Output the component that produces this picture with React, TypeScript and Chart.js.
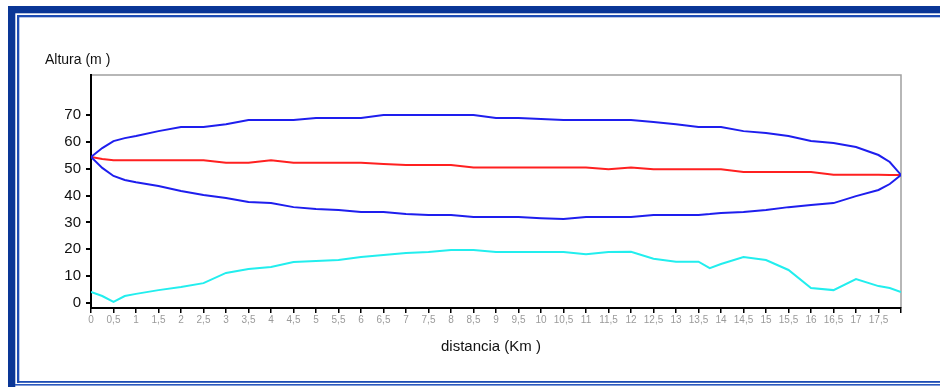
import { useEffect, useRef } from 'react';
import { Chart, registerables } from 'chart.js';

Chart.register(...registerables);

const W = 940;
const H = 387;

// distance along the profile (km)
const distancias = [0, 0.25, 0.5, 0.75, 1, 1.5, 2, 2.5, 3, 3.5, 4, 4.5, 5, 5.5, 6, 6.5, 7, 7.5, 8, 8.5, 9, 9.5, 10, 10.5, 11, 11.5, 12, 12.5, 13, 13.5, 13.75, 14, 14.5, 15, 15.5, 16, 16.5, 17, 17.5, 17.75, 18];

// upper Fresnel boundary (m)
const fresnelSuperior = [54.4, 57.7, 60.3, 61.4, 62.2, 64.0, 65.5, 65.5, 66.6, 68.1, 68.1, 68.1, 68.9, 68.9, 68.9, 70.0, 70.0, 70.0, 70.0, 70.0, 68.9, 68.9, 68.5, 68.1, 68.1, 68.1, 68.1, 67.4, 66.6, 65.5, 65.5, 65.5, 64.0, 63.3, 62.2, 60.3, 59.6, 58.1, 55.1, 52.5, 47.7];

// lower Fresnel boundary (m)
const fresnelInferior = [54.4, 50.3, 47.3, 45.8, 45.0, 43.6, 41.7, 40.2, 39.1, 37.6, 37.2, 35.7, 35.0, 34.6, 33.9, 33.9, 33.1, 32.8, 32.8, 32.0, 32.0, 32.0, 31.6, 31.3, 32.0, 32.0, 32.0, 32.8, 32.8, 32.8, 33.1, 33.5, 33.9, 34.6, 35.7, 36.5, 37.2, 39.8, 42.1, 44.3, 47.7];

// line of sight (m)
const lineaVista = [54.4, 53.6, 53.2, 53.2, 53.2, 53.2, 53.2, 53.2, 52.2, 52.2, 53.2, 52.2, 52.2, 52.2, 52.2, 51.8, 51.4, 51.4, 51.4, 50.5, 50.5, 50.5, 50.5, 50.5, 50.5, 49.8, 50.5, 49.8, 49.8, 49.8, 49.8, 49.8, 48.8, 48.8, 48.8, 48.8, 47.8, 47.8, 47.8, 47.7, 47.7];

// terrain profile (m)
const terreno = [4.1, 2.6, 0.4, 2.6, 3.4, 4.8, 6.0, 7.4, 11.2, 12.7, 13.4, 15.3, 15.6, 16.0, 17.1, 17.9, 18.6, 19.0, 19.7, 19.7, 19.0, 19.0, 19.0, 19.0, 18.2, 19.0, 19.1, 16.5, 15.4, 15.4, 13.0, 14.5, 17.1, 16.0, 12.3, 5.6, 4.8, 8.9, 6.3, 5.6, 4.1];

const xTickValues = [0, 0.5, 1, 1.5, 2, 2.5, 3, 3.5, 4, 4.5, 5, 5.5, 6, 6.5, 7, 7.5, 8, 8.5, 9, 9.5, 10, 10.5, 11, 11.5, 12, 12.5, 13, 13.5, 14, 14.5, 15, 15.5, 16, 16.5, 17, 17.5, 18];
const xTickLabels = ['0', '0,5', '1', '1,5', '2', '2,5', '3', '3,5', '4', '4,5', '5', '5,5', '6', '6,5', '7', '7,5', '8', '8,5', '9', '9,5', '10', '10,5', '11', '11,5', '12', '12,5', '13', '13,5', '14', '14,5', '15', '15,5', '16', '16,5', '17', '17,5', ''];
const yTickValues = [0, 10, 20, 30, 40, 50, 60, 70];

const yTitle = 'Altura (m )';
const xTitle = 'distancia (Km )';

const FONT = "'Liberation Sans Narrow', 'Liberation Sans', Arial, sans-serif";

const toPoints = (serie: number[]) => distancias.map((d, i) => ({ x: d, y: serie[i] }));

const framePlugin = {
  id: 'frame',
  beforeDraw(chart: any) {
    const ctx = chart.ctx;
    const a = chart.chartArea;
    ctx.save();
    ctx.fillStyle = '#ffffff';
    ctx.fillRect(0, 0, W, H);
    // outer dark band
    ctx.fillStyle = '#0a3696';
    ctx.fillRect(8, 6, W - 8, 7.3);
    ctx.fillRect(8, 6, 7.3, H - 6);
    // inner thin lines
    ctx.fillStyle = '#1d4cb4';
    ctx.fillRect(17, 15, W - 17, 2.3);
    ctx.fillRect(17, 15, 2.3, 368);
    ctx.fillRect(17, 381, W - 17, 1.8);
    ctx.fillStyle = '#2b58bd';
    ctx.fillRect(15, 384, W - 15, 1.6);
    // plot area top/right border
    ctx.strokeStyle = '#a0a0a0';
    ctx.lineWidth = 1.5;
    ctx.beginPath();
    ctx.moveTo(a.left, a.top);
    ctx.lineTo(a.right, a.top);
    ctx.lineTo(a.right, a.bottom);
    ctx.stroke();
    ctx.restore();
  },
  afterDraw(chart: any) {
    const ctx = chart.ctx;
    ctx.save();
    ctx.fillStyle = '#111111';
    ctx.textBaseline = 'middle';
    ctx.textAlign = 'left';
    ctx.font = `14px ${FONT}`;
    ctx.fillText(yTitle, 45, 60);
    ctx.textAlign = 'center';
    ctx.font = `15px ${FONT}`;
    ctx.fillText(xTitle, 491, 347);
    ctx.restore();
  },
};

export default function App() {
  const ref = useRef<HTMLCanvasElement | null>(null);

  useEffect(() => {
    if (!ref.current) return;
    const chart = new Chart(ref.current, {
      type: 'line',
      data: {
        datasets: [
          { label: 'Fresnel sup.', data: toPoints(fresnelSuperior), borderColor: '#1e1eee', borderWidth: 2, pointRadius: 0, tension: 0 },
          { label: 'Fresnel inf.', data: toPoints(fresnelInferior), borderColor: '#1e1eee', borderWidth: 2, pointRadius: 0, tension: 0 },
          { label: 'Línea de vista', data: toPoints(lineaVista), borderColor: '#ff2020', borderWidth: 2, pointRadius: 0, tension: 0 },
          { label: 'Terreno', data: toPoints(terreno), borderColor: '#22eeee', borderWidth: 2, pointRadius: 0, tension: 0 },
        ],
      },
      options: {
        animation: false,
        responsive: false,
        devicePixelRatio: 1,
        layout: { padding: { top: 75, right: 39, bottom: 0, left: 0 } },
        plugins: { legend: { display: false }, tooltip: { enabled: false } },
        scales: {
          x: {
            type: 'linear',
            min: 0,
            max: 18,
            afterBuildTicks: (s: any) => {
              s.ticks = xTickValues.map((v) => ({ value: v }));
            },
            afterFit: (s: any) => {
              s.height = 79;
            },
            ticks: {
              autoSkip: false,
              maxRotation: 0,
              minRotation: 0,
              padding: 1,
              color: '#9a9a9a',
              font: { size: 10, family: FONT },
              callback: (_v: any, i: number) => xTickLabels[i],
            },
            grid: { drawOnChartArea: false, drawTicks: true, tickLength: 5, color: '#000', lineWidth: 1.5 },
            border: { display: true, color: '#000', width: 2 },
          },
          y: {
            type: 'linear',
            min: -1.86,
            max: 84.9,
            afterBuildTicks: (s: any) => {
              s.ticks = yTickValues.map((v) => ({ value: v }));
            },
            afterFit: (s: any) => {
              s.width = 91;
            },
            ticks: {
              padding: 5,
              color: '#111111',
              font: { size: 15, family: FONT },
            },
            grid: { drawOnChartArea: false, drawTicks: true, tickLength: 5, color: '#000', lineWidth: 2 },
            border: { display: true, color: '#000', width: 2 },
          },
        },
      },
      plugins: [framePlugin],
    } as any);
    return () => chart.destroy();
  }, []);

  return (
    <div style={{ position: 'fixed', left: 0, top: 0, width: W, height: H }}>
      <canvas ref={ref} width={W} height={H} style={{ display: 'block', width: W, height: H }} />
    </div>
  );
}
